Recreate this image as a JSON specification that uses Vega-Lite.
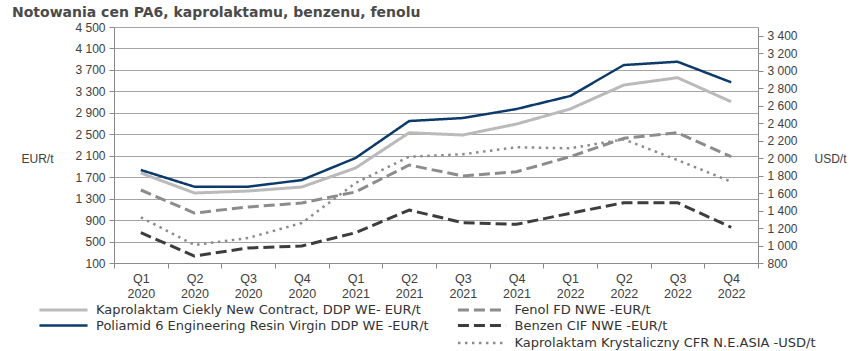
{
  "$schema": "https://vega.github.io/schema/vega-lite/v6.json",
  "width": 644,
  "height": 236,
  "autosize": {"type": "none"},
  "padding": {"left": 114, "top": 27, "right": 105, "bottom": 88},
  "background": "white",
  "title": {"text": "Notowania cen PA6, kaprolaktamu, benzenu, fenolu", "anchor": "start", "frame": "group", "dx": -102, "offset": 1, "font": "DejaVu Sans", "fontSize": 14, "fontWeight": "bold", "color": "#4a4a4a"},
  "config": {
    "view": {"stroke": null},
    "font": "Liberation Sans",
    "axis": {"labelFont": "Liberation Sans", "labelFontSize": 12, "labelColor": "#404040", "domainColor": "#8a8a8a", "tickColor": "#8a8a8a", "gridColor": "#a4a4a4", "titleFont": "Liberation Sans", "titleFontWeight": "normal", "titleFontSize": 12, "titleColor": "#404040", "tickSize": 5, "labelPadding": 4},
    "legend": {"labelFont": "DejaVu Sans", "labelFontSize": 13, "labelColor": "#333333", "padding": 0, "rowPadding": 0.5, "labelLimit": 0, "symbolType": "M-3.7,0H3.7", "symbolSize": 169, "labelOffset": 24.5, "title": null}
  },
  "data": {"values": [
    {"q": "Q1 2020", "s": "Kaprolaktam Ciekly New Contract, DDP WE- EUR/t", "v": 1778},
    {"q": "Q2 2020", "s": "Kaprolaktam Ciekly New Contract, DDP WE- EUR/t", "v": 1405},
    {"q": "Q3 2020", "s": "Kaprolaktam Ciekly New Contract, DDP WE- EUR/t", "v": 1442},
    {"q": "Q4 2020", "s": "Kaprolaktam Ciekly New Contract, DDP WE- EUR/t", "v": 1517},
    {"q": "Q1 2021", "s": "Kaprolaktam Ciekly New Contract, DDP WE- EUR/t", "v": 1871},
    {"q": "Q2 2021", "s": "Kaprolaktam Ciekly New Contract, DDP WE- EUR/t", "v": 2529},
    {"q": "Q3 2021", "s": "Kaprolaktam Ciekly New Contract, DDP WE- EUR/t", "v": 2486},
    {"q": "Q4 2021", "s": "Kaprolaktam Ciekly New Contract, DDP WE- EUR/t", "v": 2691},
    {"q": "Q1 2022", "s": "Kaprolaktam Ciekly New Contract, DDP WE- EUR/t", "v": 2971},
    {"q": "Q2 2022", "s": "Kaprolaktam Ciekly New Contract, DDP WE- EUR/t", "v": 3418},
    {"q": "Q3 2022", "s": "Kaprolaktam Ciekly New Contract, DDP WE- EUR/t", "v": 3555},
    {"q": "Q4 2022", "s": "Kaprolaktam Ciekly New Contract, DDP WE- EUR/t", "v": 3107},
    {"q": "Q1 2020", "s": "Poliamid 6 Engineering Resin Virgin DDP WE -EUR/t", "v": 1834},
    {"q": "Q2 2020", "s": "Poliamid 6 Engineering Resin Virgin DDP WE -EUR/t", "v": 1522},
    {"q": "Q3 2020", "s": "Poliamid 6 Engineering Resin Virgin DDP WE -EUR/t", "v": 1522},
    {"q": "Q4 2020", "s": "Poliamid 6 Engineering Resin Virgin DDP WE -EUR/t", "v": 1647},
    {"q": "Q1 2021", "s": "Poliamid 6 Engineering Resin Virgin DDP WE -EUR/t", "v": 2057},
    {"q": "Q2 2021", "s": "Poliamid 6 Engineering Resin Virgin DDP WE -EUR/t", "v": 2747},
    {"q": "Q3 2021", "s": "Poliamid 6 Engineering Resin Virgin DDP WE -EUR/t", "v": 2803},
    {"q": "Q4 2021", "s": "Poliamid 6 Engineering Resin Virgin DDP WE -EUR/t", "v": 2971},
    {"q": "Q1 2022", "s": "Poliamid 6 Engineering Resin Virgin DDP WE -EUR/t", "v": 3213},
    {"q": "Q2 2022", "s": "Poliamid 6 Engineering Resin Virgin DDP WE -EUR/t", "v": 3791},
    {"q": "Q3 2022", "s": "Poliamid 6 Engineering Resin Virgin DDP WE -EUR/t", "v": 3853},
    {"q": "Q4 2022", "s": "Poliamid 6 Engineering Resin Virgin DDP WE -EUR/t", "v": 3469},
    {"q": "Q1 2020", "s": "Fenol FD NWE -EUR/t", "v": 1461},
    {"q": "Q2 2020", "s": "Fenol FD NWE -EUR/t", "v": 1032},
    {"q": "Q3 2020", "s": "Fenol FD NWE -EUR/t", "v": 1144},
    {"q": "Q4 2020", "s": "Fenol FD NWE -EUR/t", "v": 1219},
    {"q": "Q1 2021", "s": "Fenol FD NWE -EUR/t", "v": 1424},
    {"q": "Q2 2021", "s": "Fenol FD NWE -EUR/t", "v": 1927},
    {"q": "Q3 2021", "s": "Fenol FD NWE -EUR/t", "v": 1722},
    {"q": "Q4 2021", "s": "Fenol FD NWE -EUR/t", "v": 1802},
    {"q": "Q1 2022", "s": "Fenol FD NWE -EUR/t", "v": 2082},
    {"q": "Q2 2022", "s": "Fenol FD NWE -EUR/t", "v": 2425},
    {"q": "Q3 2022", "s": "Fenol FD NWE -EUR/t", "v": 2529},
    {"q": "Q4 2022", "s": "Fenol FD NWE -EUR/t", "v": 2082},
    {"q": "Q1 2020", "s": "Benzen CIF NWE -EUR/t", "v": 665},
    {"q": "Q2 2020", "s": "Benzen CIF NWE -EUR/t", "v": 230},
    {"q": "Q3 2020", "s": "Benzen CIF NWE -EUR/t", "v": 380},
    {"q": "Q4 2020", "s": "Benzen CIF NWE -EUR/t", "v": 417},
    {"q": "Q1 2021", "s": "Benzen CIF NWE -EUR/t", "v": 665},
    {"q": "Q2 2021", "s": "Benzen CIF NWE -EUR/t", "v": 1088},
    {"q": "Q3 2021", "s": "Benzen CIF NWE -EUR/t", "v": 851},
    {"q": "Q4 2021", "s": "Benzen CIF NWE -EUR/t", "v": 821},
    {"q": "Q1 2022", "s": "Benzen CIF NWE -EUR/t", "v": 1027},
    {"q": "Q2 2022", "s": "Benzen CIF NWE -EUR/t", "v": 1224},
    {"q": "Q3 2022", "s": "Benzen CIF NWE -EUR/t", "v": 1224},
    {"q": "Q4 2022", "s": "Benzen CIF NWE -EUR/t", "v": 766},
    {"q": "Q1 2020", "s": "Kaprolaktam Krystaliczny CFR N.E.ASIA -USD/t", "v": 1323},
    {"q": "Q2 2020", "s": "Kaprolaktam Krystaliczny CFR N.E.ASIA -USD/t", "v": 1006},
    {"q": "Q3 2020", "s": "Kaprolaktam Krystaliczny CFR N.E.ASIA -USD/t", "v": 1086},
    {"q": "Q4 2020", "s": "Kaprolaktam Krystaliczny CFR N.E.ASIA -USD/t", "v": 1258},
    {"q": "Q1 2021", "s": "Kaprolaktam Krystaliczny CFR N.E.ASIA -USD/t", "v": 1715},
    {"q": "Q2 2021", "s": "Kaprolaktam Krystaliczny CFR N.E.ASIA -USD/t", "v": 2016},
    {"q": "Q3 2021", "s": "Kaprolaktam Krystaliczny CFR N.E.ASIA -USD/t", "v": 2044},
    {"q": "Q4 2021", "s": "Kaprolaktam Krystaliczny CFR N.E.ASIA -USD/t", "v": 2124},
    {"q": "Q1 2022", "s": "Kaprolaktam Krystaliczny CFR N.E.ASIA -USD/t", "v": 2112},
    {"q": "Q2 2022", "s": "Kaprolaktam Krystaliczny CFR N.E.ASIA -USD/t", "v": 2215},
    {"q": "Q3 2022", "s": "Kaprolaktam Krystaliczny CFR N.E.ASIA -USD/t", "v": 1978},
    {"q": "Q4 2022", "s": "Kaprolaktam Krystaliczny CFR N.E.ASIA -USD/t", "v": 1730}
  ]},
  "encoding": {
    "x": {"field": "q", "type": "ordinal", "sort": null,
      "scale": {"type": "band", "paddingInner": 0, "paddingOuter": 0, "domain": ["Q1 2020", "Q2 2020", "Q3 2020", "Q4 2020", "Q1 2021", "Q2 2021", "Q3 2021", "Q4 2021", "Q1 2022", "Q2 2022", "Q3 2022", "Q4 2022"]},
      "axis": {"title": null, "labelAngle": 0, "tickBand": "extent", "labelExpr": "split(datum.label, ' ')", "grid": false, "labelLineHeight": 15, "labelFontSize": 12.5, "labelPadding": 4}}
  },
  "layer": [
    {
      "encoding": {
        "y": {"field": "v", "type": "quantitative",
          "scale": {"domain": [100, 4500], "nice": false, "zero": false},
          "axis": {"values": [100, 500, 900, 1300, 1700, 2100, 2500, 2900, 3300, 3700, 4100, 4500], "labelExpr": "replace(format(datum.value, ','), ',', ' ')", "title": "EUR/t", "titleAngle": 0, "titleAlign": "center", "titleBaseline": "middle", "titleX": -77, "titleY": 131, "grid": true}}
      },
      "layer": [
        {
          "transform": [{"filter": {"field": "s", "oneOf": ["Kaprolaktam Ciekly New Contract, DDP WE- EUR/t", "Poliamid 6 Engineering Resin Virgin DDP WE -EUR/t"]}}],
          "mark": {"type": "line", "strokeCap": "butt", "strokeJoin": "round"},
          "encoding": {
            "color": {"field": "s", "type": "nominal", "scale": {"domain": ["Kaprolaktam Ciekly New Contract, DDP WE- EUR/t", "Poliamid 6 Engineering Resin Virgin DDP WE -EUR/t"], "range": ["#bababa", "#0b3a6b"]}, "legend": {"orient": "none", "legendX": -58.5, "legendY": 275}},
            "strokeDash": {"field": "s", "type": "nominal", "scale": {"domain": ["Kaprolaktam Ciekly New Contract, DDP WE- EUR/t", "Poliamid 6 Engineering Resin Virgin DDP WE -EUR/t"], "range": [[1, 0], [1, 0]]}},
            "strokeWidth": {"field": "s", "type": "nominal", "scale": {"type": "ordinal", "domain": ["Kaprolaktam Ciekly New Contract, DDP WE- EUR/t", "Poliamid 6 Engineering Resin Virgin DDP WE -EUR/t"], "range": [3, 2.5]}}
          }
        },
        {
          "transform": [{"filter": {"field": "s", "oneOf": ["Fenol FD NWE -EUR/t", "Benzen CIF NWE -EUR/t"]}}],
          "mark": {"type": "line", "strokeCap": "butt", "strokeJoin": "round"},
          "encoding": {
            "color": {"field": "s", "type": "nominal", "scale": {"domain": ["Fenol FD NWE -EUR/t", "Benzen CIF NWE -EUR/t"], "range": ["#8c8c8c", "#3d3d3d"]}, "legend": {"orient": "none", "legendX": 360, "legendY": 275}},
            "strokeDash": {"field": "s", "type": "nominal", "scale": {"domain": ["Fenol FD NWE -EUR/t", "Benzen CIF NWE -EUR/t"], "range": [[11, 5], [11, 5]]}},
            "strokeWidth": {"field": "s", "type": "nominal", "scale": {"type": "ordinal", "domain": ["Fenol FD NWE -EUR/t", "Benzen CIF NWE -EUR/t"], "range": [3, 3]}}
          }
        }
      ],
      "resolve": {"scale": {"color": "independent", "strokeDash": "independent", "strokeWidth": "independent"}}
    },
    {
      "transform": [{"filter": {"field": "s", "equal": "Kaprolaktam Krystaliczny CFR N.E.ASIA -USD/t"}}],
      "mark": {"type": "line", "strokeCap": "butt", "strokeJoin": "round"},
      "encoding": {
        "y": {"field": "v", "type": "quantitative",
          "scale": {"domain": [800, 3500], "nice": false, "zero": false},
          "axis": {"orient": "right", "values": [800, 1000, 1200, 1400, 1600, 1800, 2000, 2200, 2400, 2600, 2800, 3000, 3200, 3400], "labelExpr": "replace(format(datum.value, ','), ',', ' ')", "title": "USD/t", "titleAngle": 0, "titleAlign": "center", "titleBaseline": "middle", "titleX": 72, "titleY": 131, "grid": false}},
        "color": {"field": "s", "type": "nominal", "scale": {"domain": ["Kaprolaktam Krystaliczny CFR N.E.ASIA -USD/t"], "range": ["#8c8c8c"]}, "legend": {"orient": "none", "legendX": 360, "legendY": 308}},
        "strokeDash": {"field": "s", "type": "nominal", "scale": {"domain": ["Kaprolaktam Krystaliczny CFR N.E.ASIA -USD/t"], "range": [[2.5, 4.5]]}},
        "strokeWidth": {"field": "s", "type": "nominal", "scale": {"type": "ordinal", "domain": ["Kaprolaktam Krystaliczny CFR N.E.ASIA -USD/t"], "range": [2.5]}}
      }
    }
  ],
  "resolve": {"scale": {"y": "independent", "color": "independent", "strokeDash": "independent", "strokeWidth": "independent"}}
}
